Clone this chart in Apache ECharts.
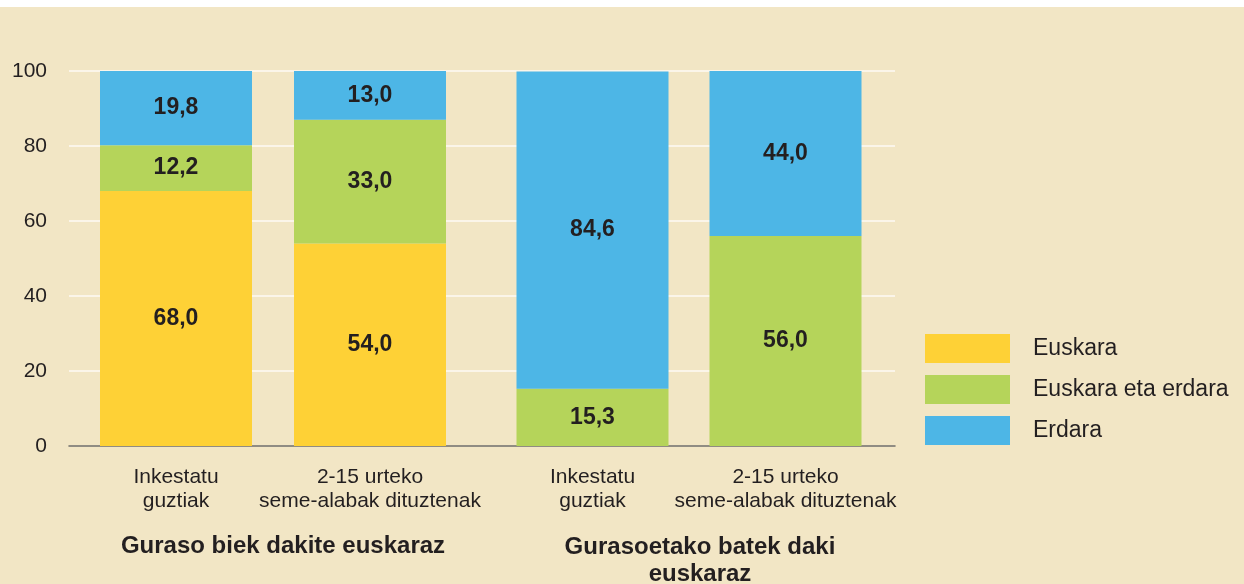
<!DOCTYPE html>
<html>
<head>
<meta charset="utf-8">
<script src="https://cdn.jsdelivr.net/npm/echarts@6/dist/echarts.min.js"></script>
<style>
  html, body { margin: 0; padding: 0; background: #fff; }
  #main { width: 1244px; height: 584px; }
</style>
</head>
<body>
<div id="main"></div>
<script>
var chart = echarts.init(document.getElementById('main'));

var categories = ['Inkestatu\nguztiak', '2-15 urteko\nseme-alabak dituztenak', 'Inkestatu\nguztiak', '2-15 urteko\nseme-alabak dituztenak'];
var groups = ['Guraso biek dakite euskaraz', 'Gurasoetako batek daki\neuskaraz'];
var seriesNames = ['Euskara', 'Euskara eta erdara', 'Erdara'];
var euskara = [68.0, 54.0, 0, 0];
var bitara = [12.2, 33.0, 15.3, 56.0];
var erdara = [19.8, 13.0, 84.6, 44.0];
var yTicks = [0, 20, 40, 60, 80, 100];

var colors = ['#FED136', '#B5D45A', '#4DB6E6'];
var font = "'Liberation Sans', Arial, sans-serif";
var txt = '#231F20';
var values = [euskara, bitara, erdara];

function fmt(p) {
  return p.value ? p.value.toFixed(1).replace('.', ',') : '';
}

var series = [];
[0, 1].forEach(function (g) {
  values.forEach(function (arr, i) {
    series.push({
      name: seriesNames[i],
      type: 'bar',
      stack: 'g' + g,
      xAxisIndex: g + 1,
      yAxisIndex: g + 1,
      barWidth: 152,
      itemStyle: { color: colors[i] },
      label: {
        show: true, position: 'inside', formatter: fmt,
        color: txt, fontFamily: font, fontWeight: 'bold', fontSize: 23
      },
      data: arr.slice(g * 2, g * 2 + 2)
    });
  });
});

var catLabel = { interval: 0, fontSize: 21, lineHeight: 24, color: txt, margin: 19, fontFamily: font };

var option = {
  backgroundColor: '#F2E6C5',
  animation: false,
  textStyle: { fontFamily: font },
  legend: {
    orient: 'vertical',
    left: 925, top: 334,
    padding: 0,
    itemWidth: 85, itemHeight: 29, itemGap: 12,
    icon: 'rect',
    data: seriesNames,
    textStyle: { fontSize: 23, color: txt, fontFamily: font, padding: [3, 0, 0, 18] }
  },
  grid: [
    { left: 69, top: 71, width: 826, height: 375 },
    { left: 79, top: 71, width: 388, height: 375 },
    { left: 496, top: 71, width: 386, height: 375 }
  ],
  xAxis: [
    { gridIndex: 0, type: 'category', data: [''],
      axisLine: { lineStyle: { color: '#6E6A62', width: 1.5 } },
      axisTick: { show: false }, axisLabel: { show: false } },
    { gridIndex: 1, type: 'category', data: categories.slice(0, 2),
      axisLine: { show: false }, axisTick: { show: false }, axisLabel: catLabel },
    { gridIndex: 2, type: 'category', data: categories.slice(2, 4),
      axisLine: { show: false }, axisTick: { show: false }, axisLabel: catLabel }
  ],
  yAxis: [
    { gridIndex: 0, type: 'value', min: yTicks[0], max: yTicks[yTicks.length - 1], interval: 20,
      axisLine: { show: false }, axisTick: { show: false },
      splitLine: { lineStyle: { color: '#FBF5E9', width: 2 } },
      axisLabel: { fontSize: 21, color: txt, margin: 22, padding: [0, 0, 10, 0], fontFamily: font } },
    { gridIndex: 1, type: 'value', min: 0, max: 100, show: false, splitLine: { show: false } },
    { gridIndex: 2, type: 'value', min: 0, max: 100, show: false, splitLine: { show: false } }
  ],
  graphic: [
    { type: 'rect', left: 0, top: 0, shape: { width: 1244, height: 7 }, style: { fill: '#fff' } },
    { type: 'text', x: 283, y: 546,
      style: { text: groups[0], align: 'center', verticalAlign: 'middle',
        font: 'bold 24px ' + font, fill: txt } },
    { type: 'text', x: 700, y: 561,
      style: { text: groups[1], align: 'center', verticalAlign: 'middle', lineHeight: 27,
        font: 'bold 24px ' + font, fill: txt } }
  ],
  series: series
};
chart.setOption(option);
</script>
</body>
</html>
